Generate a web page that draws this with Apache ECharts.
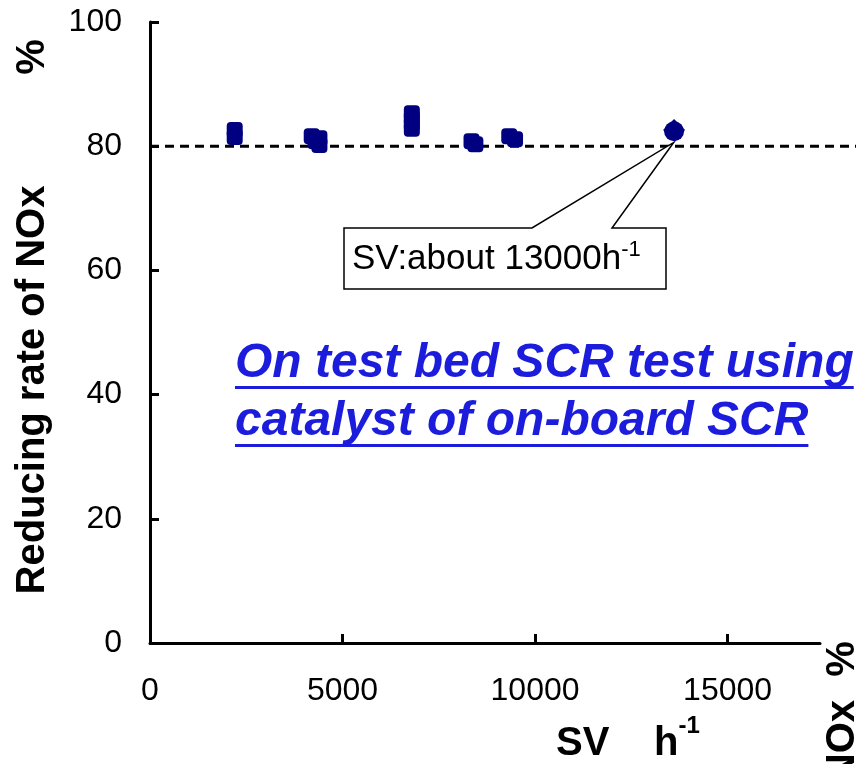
<!DOCTYPE html>
<html>
<head>
<meta charset="utf-8">
<script src="https://cdn.jsdelivr.net/npm/echarts@6/dist/echarts.min.js"></script>
<style>
  html, body { margin: 0; padding: 0; background: #fff; }
  #chart { width: 856px; height: 764px; }
</style>
</head>
<body>
<div id="chart"></div>
<script>
// SV (h^-1) and NOx reducing rate (%)
const svSquare = [2200, 2200, 4200, 4400, 4400, 4300, 6800, 6800, 6800, 6800, 8350, 8450, 9330, 9480]
const rateSquare = [81.5, 82.6, 81.6, 81.3, 80.2, 80.8, 85.3, 84.5, 83.6, 82.8, 80.8, 80.3, 81.6, 81.1]
const svRound = [13610]
const rateRound = [82.4]
const refLineSv = [0, 20000]
const refLineRate = [80, 80]
const xTicks = [0, 5000, 10000, 15000]
const calloutAt = [13600, 80.6]

const font = '"Liberation Sans", Arial, sans-serif'
const navy = '#000080'

const chart = echarts.init(document.getElementById('chart'))

chart.setOption({
  animation: false,
  grid: [
    { left: 150, top: 22, width: 670, height: 621 },
    // same scale, wider: the dashed 80% line runs past the axis end
    { left: 150, top: 22, width: 770, height: 621 }
  ],
  xAxis: [
    {
      type: 'value',
      min: 0,
      max: 17400,
      axisLine: { lineStyle: { color: '#000', width: 3 } },
      axisTick: { inside: true, length: 9, customValues: xTicks, lineStyle: { color: '#000', width: 3 } },
      axisLabel: { customValues: xTicks, margin: 32, fontSize: 32, color: '#000', fontFamily: font, formatter: v => String(v) },
      splitLine: { show: false }
    },
    { gridIndex: 1, type: 'value', min: 0, max: 20000, show: false }
  ],
  yAxis: [
    {
      type: 'value',
      min: 0,
      max: 100,
      interval: 20,
      axisLine: { show: true, lineStyle: { color: '#000', width: 3 } },
      axisTick: { show: true, inside: true, length: 9, lineStyle: { color: '#000', width: 3 } },
      axisLabel: { margin: 28, fontSize: 32, color: '#000', fontFamily: font },
      splitLine: { show: false }
    },
    { gridIndex: 1, type: 'value', min: 0, max: 100, show: false }
  ],
  series: [
    {
      type: 'line',
      xAxisIndex: 1,
      yAxisIndex: 1,
      data: refLineSv.map((v, i) => [v, refLineRate[i]]),
      symbol: 'none',
      silent: true,
      z: 1,
      lineStyle: { color: '#000', width: 3, type: [9, 6] }
    },
    {
      type: 'scatter',
      data: svSquare.map((v, i) => [v, rateSquare[i]]),
      symbol: 'roundRect',
      symbolSize: 16,
      itemStyle: { color: navy, opacity: 1 },
      z: 3
    },
    {
      type: 'scatter',
      data: svRound.map((v, i) => [v, rateRound[i]]),
      symbol: 'circle',
      symbolSize: 20,
      itemStyle: { color: navy, opacity: 1 },
      z: 3
    },
    {
      type: 'scatter',
      data: svRound.map((v, i) => [v, rateRound[i] + 0.2]),
      symbol: 'diamond',
      symbolSize: 22,
      itemStyle: { color: navy, opacity: 1 },
      z: 3
    }
  ]
})

// measure text so the underline and superscripts fit
const ctx = document.createElement('canvas').getContext('2d')
const measure = (txt, size, weight, style) => {
  ctx.font = (style || 'normal') + ' ' + (weight || 'normal') + ' ' + size + 'px ' + font
  return ctx.measureText(txt).width
}
// text placed by its baseline (approx, zrender draws from the middle)
const txt = (t, x, base, size, extra) => Object.assign({
  type: 'text', x: x, y: base - size * 0.33,
  style: Object.assign({ text: t, fontSize: size, fontFamily: font, fill: '#000', verticalAlign: 'middle' }, extra || {})
})

const blue = '#1c1cdc'
const lines = ['On test bed SCR test using', 'catalyst of on-board SCR']
const blueEls = []
lines.forEach((t, i) => {
  const base = 380 + i * 58
  const w = measure(t, 48, 'bold', 'italic')
  blueEls.push(txt(t, 235, base, 48, { fill: blue, fontWeight: 'bold', fontStyle: 'italic' }))
  blueEls.push({ type: 'rect', shape: { x: 235, y: base + 6, width: w, height: 3 }, style: { fill: blue } })
})

const tip = chart.convertToPixel({ gridIndex: 0 }, calloutAt)
const annoW = measure('SV:about 13000h', 35)
const hW = measure('h', 40, 'bold')

chart.setOption({
  graphic: [
    {
      type: 'polygon',
      shape: { points: [[344, 228], [532, 228], tip, [612, 228], [666, 228], [666, 289], [344, 289]] },
      style: { fill: '#fff', stroke: '#000', lineWidth: 1.5 },
      z: 10
    },
    Object.assign(txt('SV:about 13000h', 352, 271, 35), { z: 11 }),
    Object.assign(txt('-1', 352 + annoW, 257, 22), { z: 11 }),
    ...blueEls,
    {
      type: 'text', x: 33, y: 390, rotation: Math.PI / 2,
      style: { text: 'Reducing rate of NOx', fontSize: 40, fontWeight: 'bold', fontFamily: font, fill: '#000', align: 'center', verticalAlign: 'middle' }
    },
    {
      type: 'text', x: 33, y: 57, rotation: Math.PI / 2,
      style: { text: '%', fontSize: 40, fontWeight: 'bold', fontFamily: font, fill: '#000', align: 'center', verticalAlign: 'middle' }
    },
    {
      type: 'text', x: 843, y: 700, rotation: Math.PI / 2,
      style: { text: 'Reducing rate of NOx', fontSize: 40, fontWeight: 'bold', fontFamily: font, fill: '#000', align: 'right', verticalAlign: 'middle' }
    },
    {
      type: 'text', x: 843, y: 659, rotation: Math.PI / 2,
      style: { text: '%', fontSize: 40, fontWeight: 'bold', fontFamily: font, fill: '#000', align: 'center', verticalAlign: 'middle' }
    },
    txt('SV', 556, 757, 40, { fontWeight: 'bold' }),
    txt('h', 654, 757, 40, { fontWeight: 'bold' }),
    txt('-1', 654 + hW, 734, 24, { fontWeight: 'bold' })
  ]
})
</script>
</body>
</html>
